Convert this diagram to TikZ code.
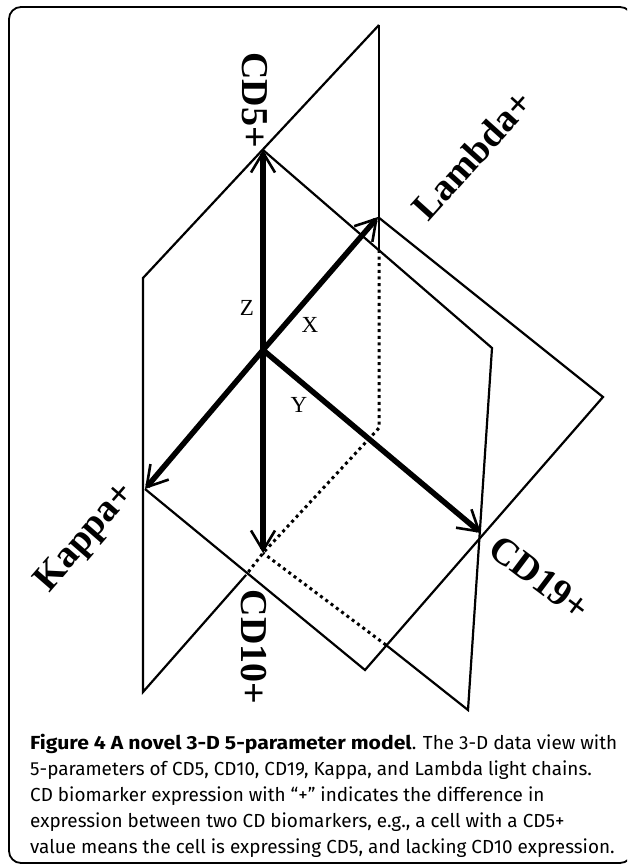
\documentclass[tikz,border=0pt]{standalone}
\usepackage{fontspec}
\setmainfont{Liberation Serif}
\newfontfamily\capfont{Fira Sans}
\newfontfamily\capboldfont[FakeStretch=1.12]{Fira Sans}
\usetikzlibrary{arrows.meta}
\begin{document}
\begin{tikzpicture}[x=1pt,y=-1pt,
  pl/.style={line width=2.2pt, line join=miter},
  hidden/.style={line width=3pt, dash pattern=on 3pt off 3.6pt},
  axis/.style={line width=5.5pt, -{Straight Barb[length=20pt,width=24pt,line width=2.6pt]}},
  lab/.style={font=\fontsize{38}{38}\selectfont\bfseries, inner sep=0pt},
  axl/.style={font=\fontsize{23}{23}\selectfont, inner sep=0pt},
  captext/.style={font=\capfont\fontsize{18.9}{26}\selectfont, anchor=base west, inner sep=0pt}]
\useasboundingbox (0,0) rectangle (627,866);
\clip (0,0) rectangle (627,866);
% frame
\draw[line width=1.8pt, rounded corners=12pt] (9,7) rectangle (632,863);
% points
\coordinate (T) at (379,25);
\coordinate (LC) at (143,278);
\coordinate (BL) at (143,692);
\coordinate (D) at (379,428);
\coordinate (H1) at (379,250);
\coordinate (A) at (263,150);
\coordinate (C) at (263,553);
\coordinate (O) at (263,350);
\coordinate (L) at (378,217);
\coordinate (K) at (145,489);
\coordinate (Y1) at (481,533);
\coordinate (P) at (492,348);
\coordinate (Q) at (468,710);
\coordinate (R) at (603,397);
\coordinate (M) at (365,670);
\coordinate (X1) at (246,575);
\coordinate (X2) at (386,645);
% X-Z plane
\draw[pl] (T) -- (LC) -- (BL) -- (X1);
\draw[pl] (T) -- (H1);
\draw[hidden] (H1) -- (D) -- (C) -- (X1);
% Y-Z half plane
\draw[pl] (A) -- (P) -- (Q) -- (X2);
\draw[hidden] (X2) -- (C);
% X-Y half plane
\draw[pl] (L) -- (R) -- (M) -- (K);
% axes
\draw[axis] (O) -- (A);
\draw[axis] (O) -- (C);
\draw[axis] (O) -- (L);
\draw[axis] (O) -- (K);
\draw[axis] (O) -- (Y1);
% axis letters
\node[axl] (zl) at (247,308) {Z};
\node[axl] (xl) at (310,325) {X};
\node[axl] (yl) at (299,405) {Y};
% labels
\node[lab, rotate=-90] (cd5) at (255,100) {CD5+};
\node[lab, rotate=48] (lam) at (472,155) {Lambda+};
\node[lab, rotate=49] (kap) at (86,538) {Kappa+};
\node[lab, rotate=-90] (cd10) at (254,647) {CD10+};
\node[lab, rotate=-37] (cd19) at (540,578) {CD19+};
% caption
\node[captext] (c1) at (30,749) {{\capboldfont\bfseries Figure 4 A novel 3-D 5-parameter model}. The 3-D data view with};
\node[captext] (c2) at (30,775) {5-parameters of CD5, CD10, CD19, Kappa, and Lambda light chains.};
\node[captext] (c3) at (30,801) {CD biomarker expression with “+” indicates the difference in};
\node[captext] (c4) at (30,827) {expression between two CD biomarkers, e.g., a cell with a CD5+};
\node[captext] (c5) at (30,853) {value means the cell is expressing CD5, and lacking CD10 expression.};
\end{tikzpicture}
\end{document}
